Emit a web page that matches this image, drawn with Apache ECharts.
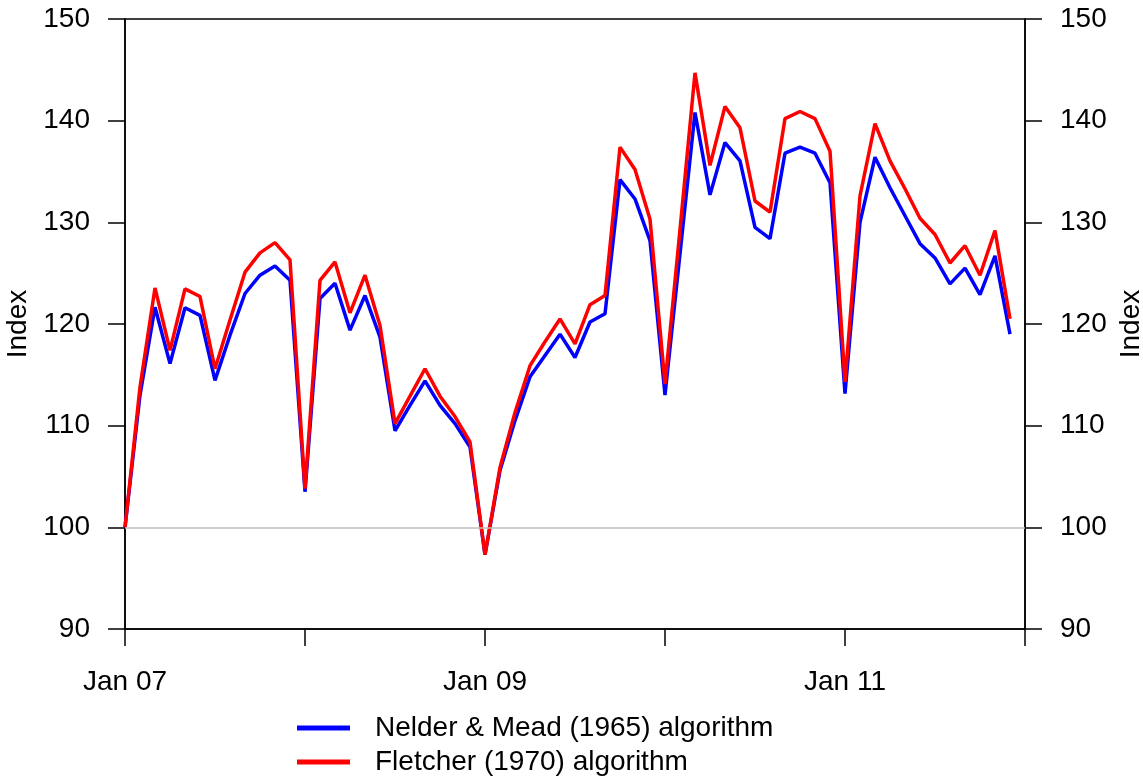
<!DOCTYPE html>
<html>
<head>
<meta charset="utf-8">
<script src="https://cdn.jsdelivr.net/npm/echarts@6/dist/echarts.min.js"></script>
<style>
html,body{margin:0;padding:0;background:#fff;}
#chart{width:1143px;height:777px;}
</style>
</head>
<body>
<div id="chart"></div>
<script>
// Monthly index, Jan 2007 .. Dec 2011 (index 0 = Jan 07)
const xTickLabels = ["Jan 07", "", "Jan 09", "", "Jan 11", ""];
const yTicks = [90, 100, 110, 120, 130, 140, 150];

const nelderMead = [
  100, 113.0, 121.65, 116.1, 121.6, 120.85, 114.45, 118.9, 123.0, 124.8, 125.7, 124.3,
  103.5, 122.5, 124.0, 119.4, 122.8, 118.7, 109.5, 112.0, 114.4, 112.0, 110.2, 107.9,
  97.3, 105.6, 110.5, 114.8, 116.9, 119.0, 116.7, 120.2, 121.0, 134.2, 132.3, 128.2,
  113.0, 126.9, 140.8, 132.7, 137.85, 136.05, 129.5, 128.4, 136.8, 137.4, 136.8, 133.9,
  113.15, 130.0, 136.4, 133.4, 130.65, 127.9, 126.5, 123.95, 125.5, 122.9, 126.7, 119.0
];
const fletcher = [
  100, 113.8, 123.55, 117.4, 123.45, 122.7, 115.6, 120.4, 125.1, 127.0, 128.0, 126.3,
  103.8, 124.3, 126.1, 121.1, 124.8, 119.85, 110.2, 112.9, 115.6, 112.9, 110.9, 108.4,
  97.3, 105.9, 111.3, 115.9, 118.25, 120.5, 118.05, 121.9, 122.8, 137.4, 135.2, 130.3,
  114.1, 129.3, 144.7, 135.6, 141.4, 139.3, 132.1, 131.0, 140.2, 140.9, 140.2, 137.0,
  114.3, 132.6, 139.7, 136.05, 133.3, 130.4, 128.8, 126.0, 127.7, 124.8, 129.2, 120.5
];
const seriesNames = ["Nelder & Mead (1965) algorithm", "Fletcher (1970) algorithm"];
const baseline = 100;

const FONT = "'Liberation Sans', Arial, Helvetica, sans-serif";
const FS = 28;
const chart = echarts.init(document.getElementById('chart'), null, {renderer: 'canvas'});

function yAxisDef(pos, gap) {
  return {
    type: 'value', position: pos, min: yTicks[0], max: yTicks[yTicks.length - 1], interval: 10,
    name: 'Index', nameLocation: 'middle', nameGap: gap, nameRotate: 90,
    nameTextStyle: {fontFamily: FONT, fontSize: FS, color: '#000'},
    axisLine: {show: true, lineStyle: {color: '#000', width: 1.5}},
    axisTick: {show: true, length: 17, lineStyle: {color: '#000', width: 1.5}},
    axisLabel: {fontFamily: FONT, fontSize: FS, color: '#000', margin: 35, padding: [3, 0, 0, 0]},
    splitLine: {show: false}
  };
}

const option = {
  animation: false,
  backgroundColor: '#fff',
  grid: {left: 125, right: 118, top: 19, bottom: 148, show: true, borderColor: '#000', borderWidth: 1.5,
         outerBoundsMode: 'none', containLabel: false},
  legend: {
    orient: 'vertical', left: 297, top: 713, padding: 0,
    icon: 'rect', itemWidth: 53, itemHeight: 5, itemGap: 4,
    textStyle: {fontFamily: FONT, fontSize: FS, color: '#000', lineHeight: 30, padding: [0, 0, 0, 20]},
    data: seriesNames
  },
  xAxis: {
    type: 'value', min: 0, max: 60, interval: 12,
    axisLine: {show: true, lineStyle: {color: '#000', width: 1.5}},
    axisTick: {show: true, length: 17, lineStyle: {color: '#000', width: 1.5}},
    axisLabel: {
      fontFamily: FONT, fontSize: FS, color: '#000', margin: 39,
      formatter: function (v) { return xTickLabels[Math.round(v / 12)] || ''; }
    },
    splitLine: {show: false}
  },
  yAxis: [yAxisDef('left', 87), yAxisDef('right', 91)],
  series: [
    {
      name: seriesNames[0], type: 'line', yAxisIndex: 0, showSymbol: false, symbol: 'none',
      data: nelderMead.map((v, i) => [i, v]),
      lineStyle: {color: '#0000ff', width: 3.5}, itemStyle: {color: '#0000ff'},
      markLine: {
        silent: true, symbol: 'none', label: {show: false},
        lineStyle: {color: '#bebebe', width: 1.5, type: 'solid'},
        data: [{yAxis: baseline}]
      },
      z: 2
    },
    {
      name: seriesNames[1], type: 'line', yAxisIndex: 0, showSymbol: false, symbol: 'none',
      data: fletcher.map((v, i) => [i, v]),
      lineStyle: {color: '#ff0000', width: 3.5}, itemStyle: {color: '#ff0000'},
      z: 3
    }
  ]
};
chart.setOption(option);
</script>
</body>
</html>
